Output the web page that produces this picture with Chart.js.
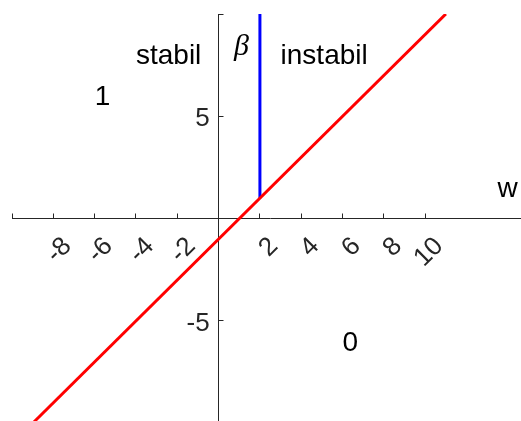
<!DOCTYPE html>
<html>
<head>
<meta charset="utf-8">
<script src="https://cdn.jsdelivr.net/npm/chart.js@4/dist/chart.umd.min.js"></script>
<style>
  html, body { margin: 0; padding: 0; background: #fff; overflow: hidden; }
  canvas { display: block; }
</style>
</head>
<body>
<canvas id="chart" width="540" height="440" style="width:540px;height:440px"></canvas>
<script>
// Stability boundary (straight line) end points
const boundaryX = [-9, 11];
const boundaryY = [-10, 10];

// Vertical segment at w = 2 marking beta
const betaX = [2, 2];
const betaY = [1, 10];

// Axis ticks and their labels
const xTicks = [-10, -8, -6, -4, -2, 0, 2, 4, 6, 8, 10];
const xTickLabels = ['', '-8', '-6', '-4', '-2', '', '2', '4', '6', '8', '10'];
const yTicks = [-10, -5, 0, 5, 10];
const yTickLabels = ['', '-5', '', '5', ''];

// Region annotations (left-aligned, placed in data coordinates)
const noteTexts = ['stabil', 'instabil', '1', '0', 'w'];
const noteX = [-4, 3, -6, 6, 13.5];
const noteY = [8, 8, 6, -6, 1.5];
const betaText = 'β';
const betaPos = [0.75, 8.4];

const AXIS_COLOR = '#262626';
const SANS = '"Liberation Sans", Arial, Helvetica, sans-serif';

const labelPlugin = {
  id: 'axisText',
  afterDraw(chart) {
    const { ctx, scales: { x, y } } = chart;
    const x0 = x.getPixelForValue(0);
    const y0 = y.getPixelForValue(0);
    ctx.save();
    ctx.fillStyle = AXIS_COLOR;
    ctx.font = '26px ' + SANS;

    // rotated x tick labels, anchored at their right end
    ctx.textAlign = 'right';
    ctx.textBaseline = 'middle';
    xTicks.forEach((v, i) => {
      const t = xTickLabels[i];
      if (!t) return;
      ctx.save();
      ctx.translate(x.getPixelForValue(v) + 14, y0 + 23.5);
      ctx.rotate(-Math.PI / 4);
      ctx.fillText(t, 0, 0);
      ctx.restore();
    });

    // y tick labels, left of the vertical axis
    ctx.textAlign = 'right';
    yTicks.forEach((v, i) => {
      const t = yTickLabels[i];
      if (!t) return;
      ctx.fillText(t, x0 - 9, y.getPixelForValue(v) + 3);
    });

    // annotations
    ctx.fillStyle = '#000';
    ctx.font = '28px ' + SANS;
    ctx.textAlign = 'left';
    noteTexts.forEach((t, i) => {
      ctx.fillText(t, x.getPixelForValue(noteX[i]), y.getPixelForValue(noteY[i]) + 1.5);
    });
    ctx.font = 'italic 30px "Liberation Serif", "DejaVu Serif", serif';
    ctx.fillText(betaText, x.getPixelForValue(betaPos[0]), y.getPixelForValue(betaPos[1]));
    ctx.restore();
  }
};

const toPoints = (xs, ys) => xs.map((v, i) => ({ x: v, y: ys[i] }));

const axisCommon = {
  type: 'linear',
  ticks: { display: false },
  grid: {
    display: true,
    drawOnChartArea: false,
    drawTicks: true,
    tickLength: -5.5,
    color: AXIS_COLOR,
    lineWidth: 1
  },
  border: { display: true, color: AXIS_COLOR, width: 1 }
};

new Chart(document.getElementById('chart'), {
  type: 'scatter',
  data: {
    datasets: [
      {
        data: toPoints(boundaryX, boundaryY),
        showLine: true,
        borderColor: '#ff0000',
        borderWidth: 3,
        pointRadius: 0,
        fill: false
      },
      {
        data: toPoints(betaX, betaY),
        showLine: true,
        borderColor: '#0000ff',
        borderWidth: 3,
        pointRadius: 0,
        fill: false
      }
    ]
  },
  options: {
    responsive: false,
    animation: false,
    devicePixelRatio: 1,
    layout: { autoPadding: false, padding: { left: 12, top: 14, right: 11.5, bottom: 16.8 } },
    plugins: { legend: { display: false }, tooltip: { enabled: false } },
    scales: {
      x: Object.assign({}, axisCommon, {
        min: -10, max: 15,
        position: { y: 0 },
        afterBuildTicks: s => { s.ticks = xTicks.map(v => ({ value: v })); },
        afterFit: s => { s.height = 0; }
      }),
      y: Object.assign({}, axisCommon, {
        min: -10, max: 10,
        position: { x: 0 },
        afterBuildTicks: s => { s.ticks = yTicks.map(v => ({ value: v })); },
        afterFit: s => { s.width = 0; }
      })
    }
  },
  plugins: [labelPlugin]
});
</script>
</body>
</html>
